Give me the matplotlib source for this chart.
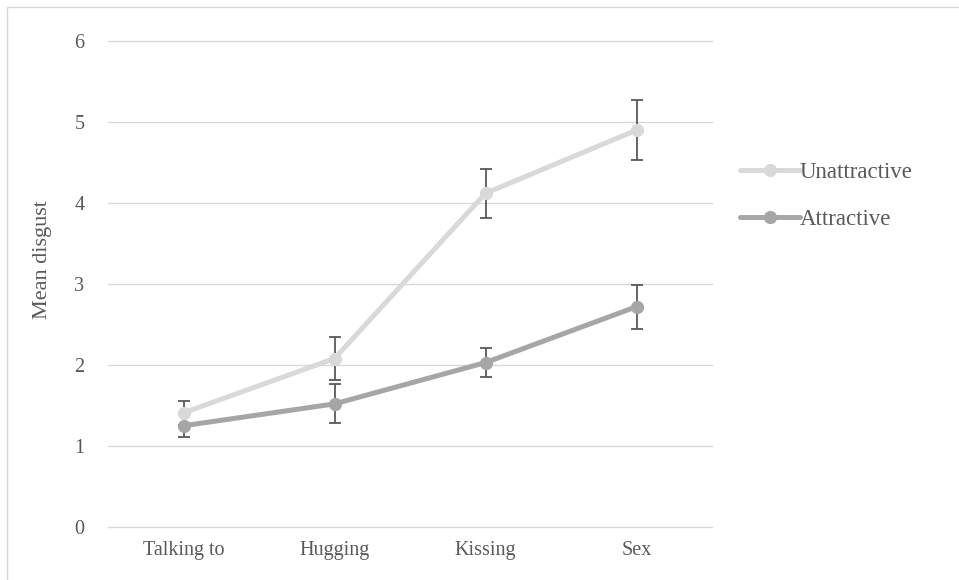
import numpy as np
import matplotlib.pyplot as plt
from matplotlib.patches import Rectangle

categories = ["Talking to", "Hugging", "Kissing", "Sex"]
unattractive = [1.41, 2.08, 4.12, 4.90]
unattractive_err = [0.15, 0.27, 0.30, 0.375]
attractive = [1.25, 1.52, 2.03, 2.72]
attractive_err = [0.14, 0.24, 0.18, 0.27]
yticks = [0, 1, 2, 3, 4, 5, 6]

plt.rcParams['font.family'] = ['Liberation Serif', 'DejaVu Serif']
text_color = "#595959"

fig = plt.figure(figsize=(9.59, 5.8), dpi=100)
ax = fig.add_axes([108 / 959, 1 - 527 / 580, 604 / 959, 486 / 580])

# chart area border (extends past the picture on the right and bottom)
fig.patches.append(Rectangle((7 / 959, -0.1), 2, 1 - 7 / 580 + 0.1,
                             transform=fig.transFigure, fill=False,
                             edgecolor="#D9D9D9", linewidth=1))

x = np.arange(len(categories))

# error bars under the lines
ax.errorbar(x, unattractive, yerr=unattractive_err, fmt="none",
            ecolor="#595959", elinewidth=1.3, capsize=4.3, capthick=1.3, zorder=2)
ax.errorbar(x, attractive, yerr=attractive_err, fmt="none",
            ecolor="#595959", elinewidth=1.3, capsize=4.3, capthick=1.3, zorder=2)

ax.plot(x, unattractive, color="#D9D9D9", linewidth=3.6, marker="o",
        markersize=8.5, label="Unattractive", zorder=3, solid_capstyle="round")
ax.plot(x, attractive, color="#A6A6A6", linewidth=3.6, marker="o",
        markersize=8.5, label="Attractive", zorder=3, solid_capstyle="round")

ax.set_xlim(-0.5, len(categories) - 0.5)
ax.set_ylim(0, 6)
ax.set_yticks(yticks)
ax.set_xticks(x)
ax.set_xticklabels(categories)
ax.grid(axis="y", color="#D9D9D9", linewidth=1)
for gl in ax.get_ygridlines():
    gl.set_clip_on(False)
ax.set_axisbelow(True)
for s in ax.spines.values():
    s.set_visible(False)
ax.tick_params(axis="both", length=0, labelsize=14.5, labelcolor=text_color)
ax.tick_params(axis="y", pad=17)
ax.tick_params(axis="x", pad=10)

fig.text(42 / 959, 1 - 260 / 580, "Mean disgust", rotation=90,
         ha="center", va="center", fontsize=16, color=text_color)

ax.legend(loc="center left", bbox_to_anchor=(740 / 959, 1 - 196 / 580),
          bbox_transform=fig.transFigure, frameon=False, fontsize=16.5,
          labelcolor=text_color, handlelength=2.6, handletextpad=0.02,
          labelspacing=1.1, borderaxespad=0, borderpad=0)

fig.savefig("out.png", dpi=100)
